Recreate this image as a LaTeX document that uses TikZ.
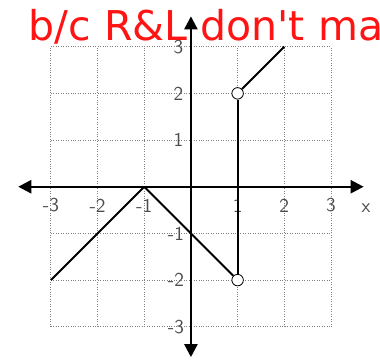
\documentclass[tikz,border=0pt]{standalone}
\usepackage{fontspec}
\newfontfamily\notefont{DejaVu Sans}
\usetikzlibrary{positioning, arrows.meta}

\begin{document}
\begin{tikzpicture}[x=1cm, y=1cm,
    gridline/.style={gray, densely dotted, line width=0.5pt},
    axisline/.style={line width=1.4pt, {Triangle[length=8pt, width=8pt]}-{Triangle[length=8pt, width=8pt]}},
    graphline/.style={line width=1.2pt},
    opendot/.style={circle, draw, fill=white, inner sep=0pt, minimum size=7pt, line width=0.5pt},
    ticklabel/.style={font=\sffamily\large, text=black!70, inner sep=1pt}]
      \useasboundingbox (-4.09,-3.70) rectangle (4.05,4.0);
      \clip (-4.09,-3.70) rectangle (4.05,4.0);

      % Grid
      \draw[gridline] (-3,-3) grid (3,3);

      % Axes
      \draw[axisline] (-3.7,0) -- (3.7,0);
      \draw[axisline] (0,-3.65) -- (0,3.65);

      % Tick labels
      \foreach \x/\t in {-3/-3,-2/-2,-1/-1,1/1,2/2,3/3} {
        \node[ticklabel] (xl\x) at (\x,-0.4) {\t};
      }
      \node[ticklabel] (xname) at (3.75,-0.45) {x};
      \foreach \y/\t in {1/1,2/2,3/3} {
        \node[ticklabel] (yl\y) at (-0.27,\y) {\t};
      }
      \foreach \y/\t in {-1/-1,-2/-2,-3/-3} {
        \node[ticklabel] (yl\y) at (-0.32,\y) {\t};
      }

      % Vertices
      \coordinate (p1) at (-3,-2);
      \coordinate (p2) at (-1,0);
      \node[opendot] (p3) at (1,-2) {};
      \node[opendot] (p4) at (1,2) {};
      \coordinate (p5) at (2,3);

      % Edges
      \draw[graphline] (p1) -- (p2);
      \draw[graphline] (p2) -- (p3);
      \draw[graphline] (p3) -- (p4);
      \draw[graphline] (p4) -- (p5);

      % Note
      \node[anchor=west, text=red!90!pink, font=\notefont\fontsize{25}{30}\selectfont] (note) at (-3.6,3.42) {b/c R\&L don't ma};
  \end{tikzpicture}
\end{document}
